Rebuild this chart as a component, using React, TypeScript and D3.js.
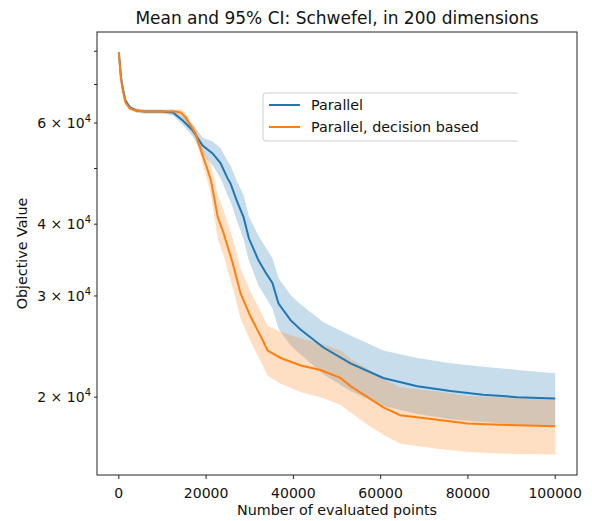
import React from "react";
import * as d3 from "d3";

const blueX = [0, 500, 1000, 1500, 2500, 4000, 6000, 10000, 12400, 14650, 16900, 19200, 21500, 23300, 24900, 25600, 27000, 28600, 29800, 32000, 33600, 35200, 36600, 39400, 41700, 46900, 53100, 60600, 68400, 76000, 83500, 91300, 100000];
const blueMean = [79600, 72000, 68400, 65700, 63900, 63100, 62800, 62800, 62600, 60600, 58300, 54800, 53100, 51100, 48100, 47100, 44000, 41100, 37800, 34600, 33000, 31600, 29100, 27200, 26200, 24400, 22900, 21600, 20900, 20500, 20200, 20000, 19900];
const blueHi = [80000, 72600, 69000, 66200, 64400, 63600, 63300, 63300, 63400, 61600, 59700, 56600, 55700, 54300, 51600, 50600, 47600, 44900, 41300, 38200, 36500, 34900, 32200, 30100, 29000, 27000, 25600, 24100, 23400, 22900, 22600, 22300, 22000];
const blueLo = [79200, 71400, 67800, 65200, 63400, 62600, 62300, 62300, 61800, 59600, 56900, 53000, 50600, 48100, 44900, 43800, 40700, 37600, 34600, 31300, 29900, 28600, 26300, 24600, 23700, 21900, 20500, 19300, 18700, 18300, 18100, 17900, 17800];

const orangeX = [0, 500, 1000, 1500, 2500, 4000, 6000, 10000, 13000, 14200, 15300, 17600, 18800, 20400, 21100, 22700, 24000, 26100, 27900, 30200, 33000, 34100, 37100, 41700, 46200, 50800, 53100, 57000, 60600, 64500, 72100, 79900, 87400, 100000];
const orangeMean = [79600, 71500, 67800, 65200, 63600, 63100, 62800, 62800, 62800, 62600, 61400, 57500, 53800, 49600, 47700, 41100, 38600, 34200, 30300, 27600, 25100, 24100, 23400, 22700, 22300, 21600, 20900, 20000, 19200, 18600, 18300, 18000, 17900, 17800];
const orangeHi = [80000, 72100, 68300, 65700, 64100, 63600, 63300, 63300, 63300, 63400, 62400, 58700, 55300, 52000, 50700, 44900, 42300, 37800, 33500, 30500, 27700, 26600, 26000, 25300, 24800, 24100, 23300, 22400, 21500, 20800, 20500, 20100, 20000, 19900];
const orangeLo = [79200, 70900, 67300, 64700, 63100, 62600, 62300, 62300, 62300, 61800, 60400, 56400, 52300, 47300, 44900, 37600, 35300, 31000, 27400, 25000, 22700, 21800, 21100, 20400, 20000, 19400, 18800, 17900, 17200, 16600, 16300, 16050, 15950, 15900];

const xTicks = [0, 20000, 40000, 60000, 80000, 100000];
const yLabeledTicks = [2, 3, 4, 6];
const yUnlabeledTicks = [5, 7, 8];
const seriesNames = ["Parallel", "Parallel, decision based"];
const colors = ["#1f77b4", "#ff7f0e"];

const W = 592, H = 521;
const L = 97, R = 577, T = 32, B = 475;
const font = "DejaVu Sans, sans-serif";

export default function App() {
  const x = d3.scaleLinear().domain([-5000, 105000]).range([L, R]);
  const y = d3.scaleLog().domain([14640, 86400]).range([B, T]);

  const series = [
    { xs: blueX, m: blueMean, hi: blueHi, lo: blueLo },
    { xs: orangeX, m: orangeMean, hi: orangeHi, lo: orangeLo },
  ];

  const line = d3.line<number>();
  return (
    <svg width={W} height={H} style={{ position: "absolute", left: 0, top: 0, background: "#fff" }} fontFamily={font}>
      <defs>
        <clipPath id="clip"><rect x={L} y={T} width={R - L} height={B - T} /></clipPath>
      </defs>
      <g clipPath="url(#clip)">
        {series.map((s, i) => {
          const area = d3.area<number>()
            .x((_, j) => x(s.xs[j]))
            .y0((_, j) => y(s.lo[j]))
            .y1((_, j) => y(s.hi[j]));
          return <path key={"a" + i} d={area(s.m) || ""} fill={colors[i]} fillOpacity={0.25} stroke="none" />;
        })}
        {series.map((s, i) => {
          const ln = d3.line<number>().x((_, j) => x(s.xs[j])).y((v) => y(v));
          return <path key={"l" + i} d={ln(s.m) || ""} fill="none" stroke={colors[i]} strokeWidth={2} />;
        })}
      </g>
      <rect x={L} y={T} width={R - L} height={B - T} fill="none" stroke="#222" strokeWidth={1} />
      {xTicks.map((t) => (
        <g key={t}>
          <line x1={x(t)} x2={x(t)} y1={B} y2={B + 4} stroke="#222" />
          <text x={x(t)} y={498} fontSize={14} textAnchor="middle" fill="#111">{t}</text>
        </g>
      ))}
      {yLabeledTicks.map((t) => (
        <g key={t}>
          <line x1={L - 3} x2={L} y1={y(t * 1e4)} y2={y(t * 1e4)} stroke="#222" />
          <text x={L - 6} y={y(t * 1e4) + 5} fontSize={14} textAnchor="end" fill="#111">
            {t} × 10<tspan dy={-6} fontSize={10}>4</tspan>
          </text>
        </g>
      ))}
      {yUnlabeledTicks.map((t) => (
        <line key={t} x1={L - 3} x2={L} y1={y(t * 1e4)} y2={y(t * 1e4)} stroke="#222" />
      ))}
      <text x={(L + R) / 2} y={24} fontSize={17} textAnchor="middle" fill="#111">Mean and 95% CI: Schwefel, in 200 dimensions</text>
      <text x={(L + R) / 2} y={515} fontSize={14.3} textAnchor="middle" fill="#111">Number of evaluated points</text>
      <text transform={`translate(27,${(T + B) / 2}) rotate(-90)`} fontSize={14.3} textAnchor="middle" fill="#111">Objective Value</text>
      <path d="M518,93 L266,93 Q263,93 263,96 L263,138 Q263,141 266,141 L518,141" fill="#fff" fillOpacity={0.8} stroke="#d0d0d0" strokeWidth={1} />
      {seriesNames.map((n, i) => (
        <g key={n}>
          <path d={line([[269, 105 + i * 22], [300, 105 + i * 22]]) || ""} stroke={colors[i]} strokeWidth={2} />
          <text x={311} y={110 + i * 22} fontSize={14.3} fill="#111">{n}</text>
        </g>
      ))}
    </svg>
  );
}
